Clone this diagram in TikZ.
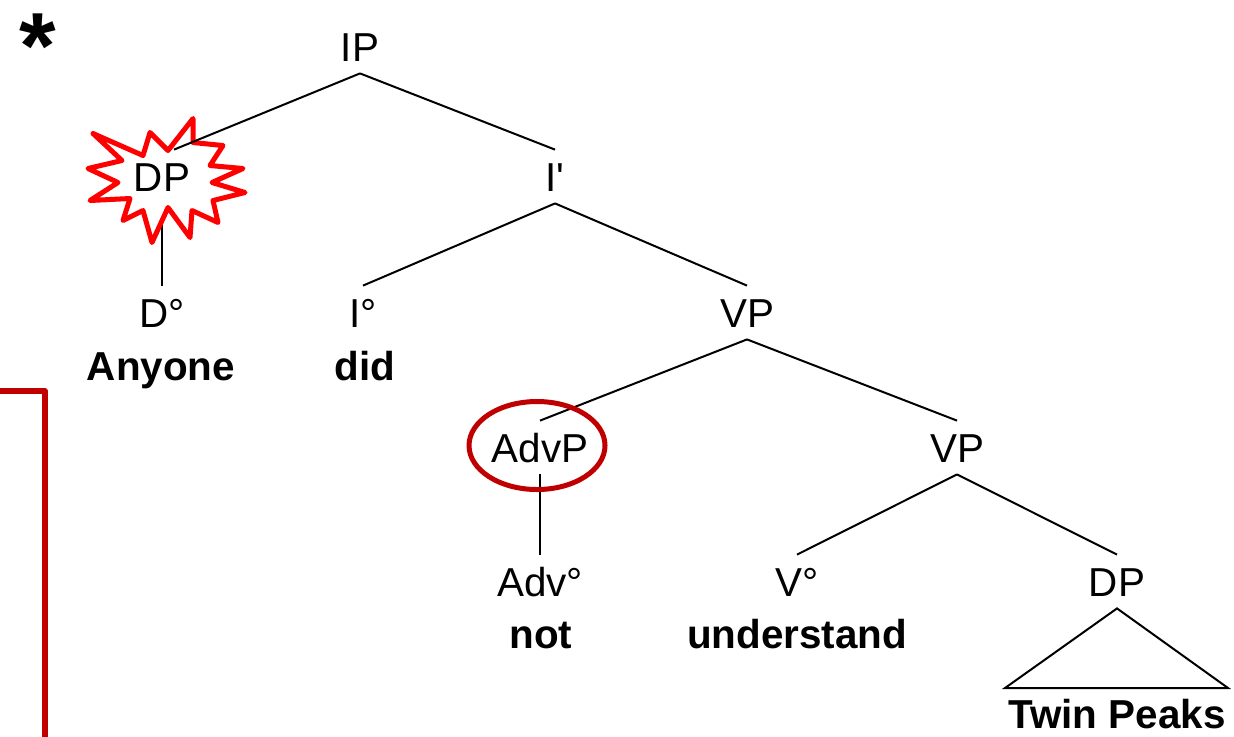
\documentclass[tikz,border=0pt]{standalone}
\usepackage{fontspec}
\setmainfont{Liberation Sans}[Ligatures=TeXOff]
\usetikzlibrary{backgrounds}
\definecolor{TreeInk}{HTML}{000000}
\definecolor{BurstRed}{HTML}{FF0000}
\definecolor{RingRed}{HTML}{C00000}
\tikzset{
  tree/cat/.style={
    font=\fontsize{20.2}{24}\selectfont, text=TreeInk,
    text height=14.5pt, text depth=0pt,
    inner ysep=6pt, inner xsep=2pt, anchor=base
  },
  tree/word/.style={
    font=\fontsize{20.2}{24}\selectfont\bfseries, text=TreeInk,
    inner sep=0pt, anchor=base
  },
  tree/branch/.style={draw=TreeInk, line width=1pt},
  tree/burst/.style={draw=BurstRed, line width=2.5pt, line join=round, fill=white},
  tree/ring/.style={draw=RingRed, line width=2.5pt},
  tree/bracket/.style={draw=RingRed, line width=2.8pt}
}

\begin{document}
\begin{tikzpicture}[x=.5pt,y=-.5pt]
  \useasboundingbox (0,0) rectangle (1234,736);

  % categories
  \node[tree/cat] (IP)   at (360,61)  {IP};
  \node[tree/cat] (DP)   at (162,191) {DP};
  \node[tree/cat] (Ibar) at (555,191) {I'};
  \node[tree/cat] (Do)   at (162,327) {D°};
  \node[tree/cat] (Io)   at (363,327) {I°};
  \node[tree/cat] (VP)   at (747,327) {VP};
  \node[tree/cat] (AdvP) at (540,462) {AdvP};
  \node[tree/cat] (VPb)  at (957,462) {VP};
  \node[tree/cat] (Advo) at (540,596) {Adv°};
  \node[tree/cat] (Vo)   at (797,596) {V°};
  \node[tree/cat] (DPb)  at (1117,596) {DP};

  % words
  \node[tree/word] (anyone) at (161,380)  {Anyone};
  \node[tree/word] (did)    at (365,380)  {did};
  \node[tree/word] (not)    at (541,648)  {not};
  \node[tree/word] (und)    at (797,648)  {understand};
  \node[tree/word] (twin)   at (1117,728) {Twin Peaks};

  \node[font=\fontsize{47}{47}\selectfont\bfseries,inner sep=0pt,anchor=base] (star) at (38,78) {*};

  % the subject is marked by a burst drawn under the branches
  \begin{scope}[on background layer]
    \draw[tree/branch] (DP.south) -- (Do.north);
    \begin{scope}[shift={(DP.center)}]
      \draw[tree/burst] (-69,-43) -- (-19,-21) -- (-12,-44) -- (6,-26)
        -- (31,-58) -- (31,-34) -- (61,-31) -- (48,-11) -- (81,-8)
        -- (50,6) -- (83,16) -- (51,24) -- (56,46) -- (30,34)
        -- (28,61) -- (6,31) -- (-10,66) -- (-19,34) -- (-39,44)
        -- (-32,22) -- (-72,24) -- (-44,6) -- (-74,-8) -- (-40,-16)
        -- cycle;
    \end{scope}
  \end{scope}

  \draw[tree/branch] (IP.south) -- ([xshift=6pt]DP.north);
  \draw[tree/branch] (IP.south) -- (Ibar.north);
  \draw[tree/branch] (Ibar.south) -- (Io.north);
  \draw[tree/branch] (Ibar.south) -- (VP.north);
  \draw[tree/branch] (VP.south) -- (AdvP.north);
  \draw[tree/branch] (VP.south) -- (VPb.north);
  \draw[tree/branch] (AdvP.south) -- (Advo.north);
  \draw[tree/branch] (VPb.south) -- (Vo.north);
  \draw[tree/branch] (VPb.south) -- (DPb.north);

  % roof over the object
  \coordinate (roofL) at (1005,688);
  \coordinate (roofR) at (1228,688);
  \draw[tree/branch, line join=miter] (DPb.south) -- (roofL) -- (roofR) -- cycle;

  \draw[tree/ring] ([xshift=-1.5pt,yshift=1pt]AdvP.center) ellipse [x radius=68, y radius=44];

  \draw[tree/bracket, line join=round] (-10,391) -- (45,391) -- (45,750);
\end{tikzpicture}
\end{document}
